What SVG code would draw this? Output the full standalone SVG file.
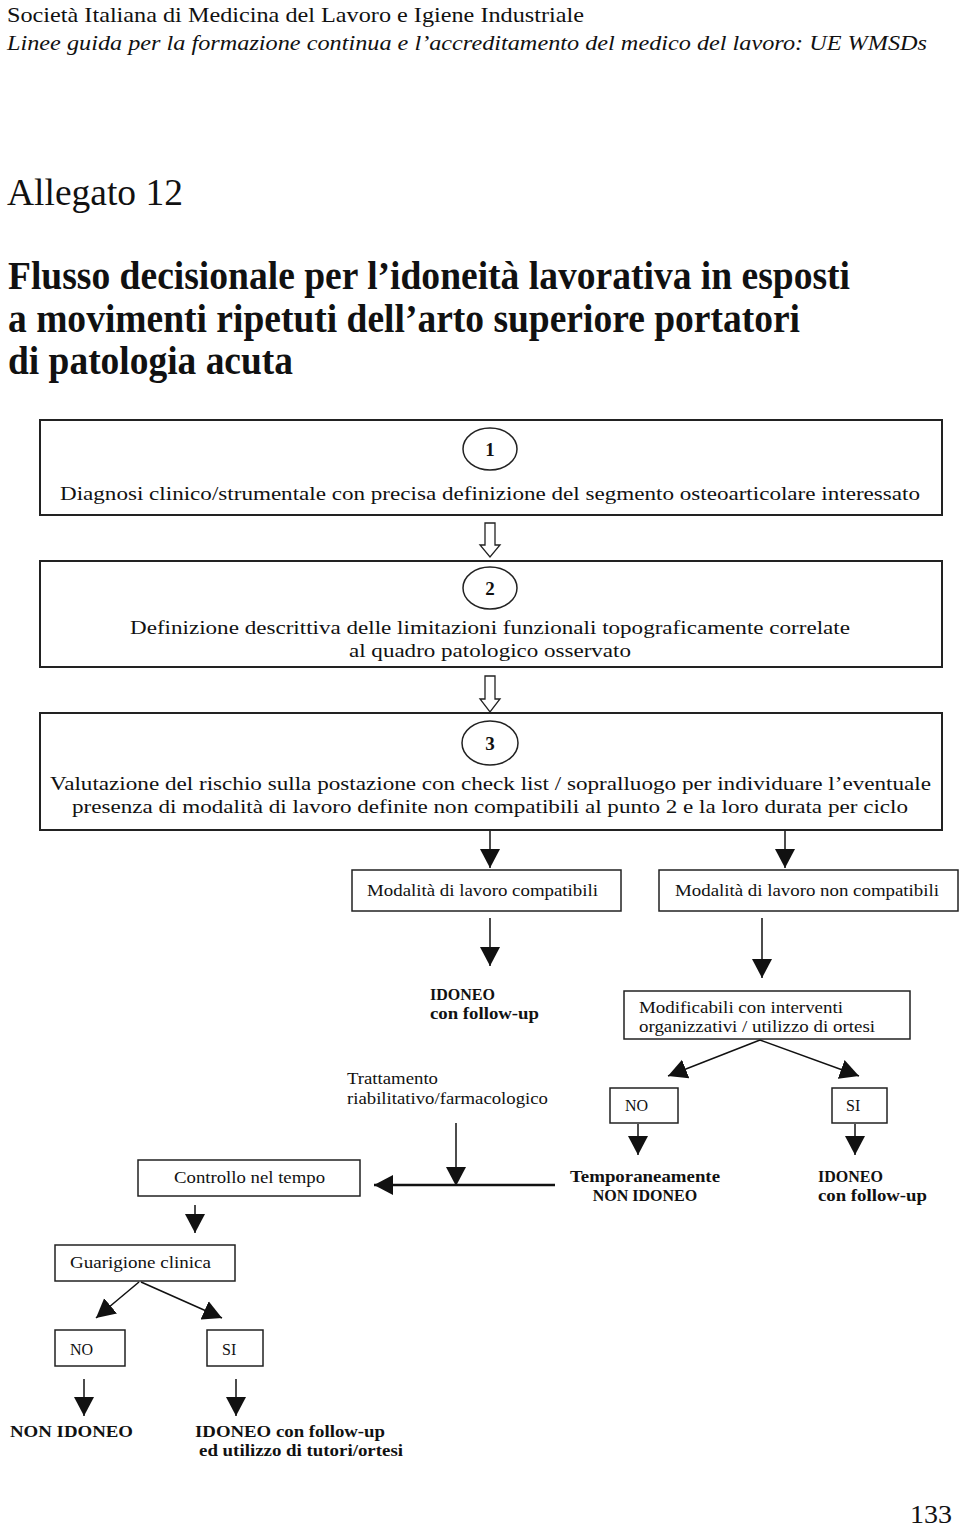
<svg xmlns="http://www.w3.org/2000/svg" width="960" height="1529" viewBox="0 0 960 1529">
<defs>
<marker id="ah" markerUnits="userSpaceOnUse" markerWidth="22" markerHeight="22" viewBox="0 0 22 22" refX="19" refY="11" orient="auto">
<path d="M0,1 L19,11 L0,21 Z" fill="#111"/>
</marker>
</defs>
<style>
text{font-family:"Liberation Serif","Times New Roman",serif;fill:#111}
.hd{font-size:22px}
.it{font-size:22px;font-style:italic}
.al{font-size:38px}
.tt{font-size:40px;font-weight:bold}
.bx{font-size:19px}
.sm{font-size:16px}
.b{font-size:16px;font-weight:bold}
.num{font-size:19px;font-weight:bold}
.box{fill:#fff;stroke:#222;stroke-width:1.5}
.big{fill:#fff;stroke:#222;stroke-width:2}
.ln{fill:none;stroke:#111;stroke-width:1.5}
.lnb{fill:none;stroke:#111;stroke-width:2.5}
.hol{fill:#fff;stroke:#222;stroke-width:1.3}
</style>
<g id="header">
<text class="hd" x="7" y="22" textLength="577" lengthAdjust="spacingAndGlyphs">Società Italiana di Medicina del Lavoro e Igiene Industriale</text>
<text class="it" x="7" y="50" textLength="920" lengthAdjust="spacingAndGlyphs">Linee guida per la formazione continua e l’accreditamento del medico del lavoro: UE WMSDs</text>
<text class="al" x="7" y="205" textLength="176" lengthAdjust="spacingAndGlyphs">Allegato 12</text>
<text class="tt" x="8" y="289" textLength="842" lengthAdjust="spacingAndGlyphs">Flusso decisionale per l’idoneità lavorativa in esposti</text>
<text class="tt" x="8" y="332" textLength="792" lengthAdjust="spacingAndGlyphs">a movimenti ripetuti dell’arto superiore portatori</text>
<text class="tt" x="8" y="374" textLength="285" lengthAdjust="spacingAndGlyphs">di patologia acuta</text>
<text class="al" x="910" y="1523" style="font-size:26px" textLength="42" lengthAdjust="spacingAndGlyphs">133</text>
</g>
<g id="connectors">
<path class="hol" d="M485,523 H495 V545 H500 L490,557 L480,545 H485 Z"/>
<path class="hol" d="M485,676 H495 V699 H500 L490,712 L480,699 H485 Z"/>
<line class="ln" x1="490" y1="831" x2="490" y2="868" marker-end="url(#ah)"/>
<line class="ln" x1="785" y1="831" x2="785" y2="868" marker-end="url(#ah)"/>
<line class="ln" x1="490" y1="918" x2="490" y2="966" marker-end="url(#ah)"/>
<line class="ln" x1="762" y1="918" x2="762" y2="978" marker-end="url(#ah)"/>
<line class="ln" x1="760" y1="1040" x2="668" y2="1076" marker-end="url(#ah)"/>
<line class="ln" x1="760" y1="1040" x2="859" y2="1076" marker-end="url(#ah)"/>
<line class="ln" x1="638" y1="1124" x2="638" y2="1155" marker-end="url(#ah)"/>
<line class="ln" x1="855" y1="1124" x2="855" y2="1155" marker-end="url(#ah)"/>
<line class="ln" x1="456" y1="1123" x2="456" y2="1186" marker-end="url(#ah)"/>
<line class="lnb" x1="555" y1="1185" x2="374" y2="1185" marker-end="url(#ah)"/>
<line class="ln" x1="195" y1="1205" x2="195" y2="1233" marker-end="url(#ah)"/>
<line class="ln" x1="139" y1="1282" x2="96" y2="1318" marker-end="url(#ah)"/>
<line class="ln" x1="141" y1="1282" x2="222" y2="1318" marker-end="url(#ah)"/>
<line class="ln" x1="84" y1="1379" x2="84" y2="1416" marker-end="url(#ah)"/>
<line class="ln" x1="236" y1="1379" x2="236" y2="1416" marker-end="url(#ah)"/>
</g>
<g id="n1">
<rect class="big" x="40" y="420" width="902" height="95"/>
<ellipse class="box" cx="490" cy="449" rx="27" ry="21"/>
<text class="num" x="490" y="456" text-anchor="middle">1</text>
<text class="bx" x="60" y="500" textLength="860" lengthAdjust="spacingAndGlyphs">Diagnosi clinico/strumentale con precisa definizione del segmento osteoarticolare interessato</text>
</g>
<g id="n2">
<rect class="big" x="40" y="561" width="902" height="106"/>
<ellipse class="box" cx="490" cy="588" rx="27" ry="21"/>
<text class="num" x="490" y="595" text-anchor="middle">2</text>
<text class="bx" x="130" y="634" textLength="720" lengthAdjust="spacingAndGlyphs">Definizione descrittiva delle limitazioni funzionali topograficamente correlate</text>
<text class="bx" x="349" y="657" textLength="282" lengthAdjust="spacingAndGlyphs">al quadro patologico osservato</text>
</g>
<g id="n3">
<rect class="big" x="40" y="713" width="902" height="117"/>
<ellipse class="box" cx="490" cy="743" rx="28" ry="22"/>
<text class="num" x="490" y="750" text-anchor="middle">3</text>
<text class="bx" x="50" y="790" textLength="881" lengthAdjust="spacingAndGlyphs">Valutazione del rischio sulla postazione con check list / sopralluogo per individuare l’eventuale</text>
<text class="bx" x="72" y="813" textLength="836" lengthAdjust="spacingAndGlyphs">presenza di modalità di lavoro definite non compatibili al punto 2 e la loro durata per ciclo</text>
</g>
<g id="compat">
<rect class="box" x="352" y="870" width="269" height="41"/>
<text class="sm" x="367" y="896" textLength="231" lengthAdjust="spacingAndGlyphs">Modalità di lavoro compatibili</text>
</g>
<g id="noncompat">
<rect class="box" x="659" y="870" width="299" height="41"/>
<text class="sm" x="675" y="896" textLength="264" lengthAdjust="spacingAndGlyphs">Modalità di lavoro non compatibili</text>
</g>
<g id="idoneo1">
<text class="b" x="430" y="1000">IDONEO</text>
<text class="b" x="430" y="1019" textLength="109" lengthAdjust="spacingAndGlyphs">con follow-up</text>
</g>
<g id="modificabili">
<rect class="box" x="624" y="991" width="286" height="48"/>
<text class="sm" x="639" y="1013" textLength="204" lengthAdjust="spacingAndGlyphs">Modificabili con interventi</text>
<text class="sm" x="639" y="1032" textLength="236" lengthAdjust="spacingAndGlyphs">organizzativi / utilizzo di ortesi</text>
</g>
<g id="no1">
<rect class="box" x="610" y="1088" width="68" height="35"/>
<text class="sm" x="625" y="1111">NO</text>
</g>
<g id="si1">
<rect class="box" x="832" y="1088" width="55" height="35"/>
<text class="sm" x="846" y="1111">SI</text>
</g>
<g id="tempnonidoneo">
<text class="b" x="645" y="1182" text-anchor="middle" textLength="150" lengthAdjust="spacingAndGlyphs">Temporaneamente</text>
<text class="b" x="645" y="1201" text-anchor="middle">NON IDONEO</text>
</g>
<g id="idoneo2">
<text class="b" x="818" y="1182">IDONEO</text>
<text class="b" x="818" y="1201" textLength="109" lengthAdjust="spacingAndGlyphs">con follow-up</text>
</g>
<g id="trattamento">
<text class="sm" x="347" y="1084" textLength="91" lengthAdjust="spacingAndGlyphs">Trattamento</text>
<text class="sm" x="347" y="1104" textLength="201" lengthAdjust="spacingAndGlyphs">riabilitativo/farmacologico</text>
</g>
<g id="controllo">
<rect class="box" x="138" y="1160" width="222" height="36"/>
<text class="sm" x="174" y="1183" textLength="151" lengthAdjust="spacingAndGlyphs">Controllo nel tempo</text>
</g>
<g id="guarigione">
<rect class="box" x="55" y="1245" width="180" height="36"/>
<text class="sm" x="70" y="1268" textLength="141" lengthAdjust="spacingAndGlyphs">Guarigione clinica</text>
</g>
<g id="no2">
<rect class="box" x="55" y="1330" width="70" height="36"/>
<text class="sm" x="70" y="1355">NO</text>
</g>
<g id="si2">
<rect class="box" x="207" y="1330" width="56" height="36"/>
<text class="sm" x="222" y="1355">SI</text>
</g>
<g id="nonidoneo">
<text class="b" x="10" y="1437" textLength="123" lengthAdjust="spacingAndGlyphs">NON IDONEO</text>
</g>
<g id="idoneo3">
<text class="b" x="195" y="1437" textLength="190" lengthAdjust="spacingAndGlyphs">IDONEO con follow-up</text>
<text class="b" x="199" y="1456" textLength="204" lengthAdjust="spacingAndGlyphs">ed utilizzo di tutori/ortesi</text>
</g>
</svg>
